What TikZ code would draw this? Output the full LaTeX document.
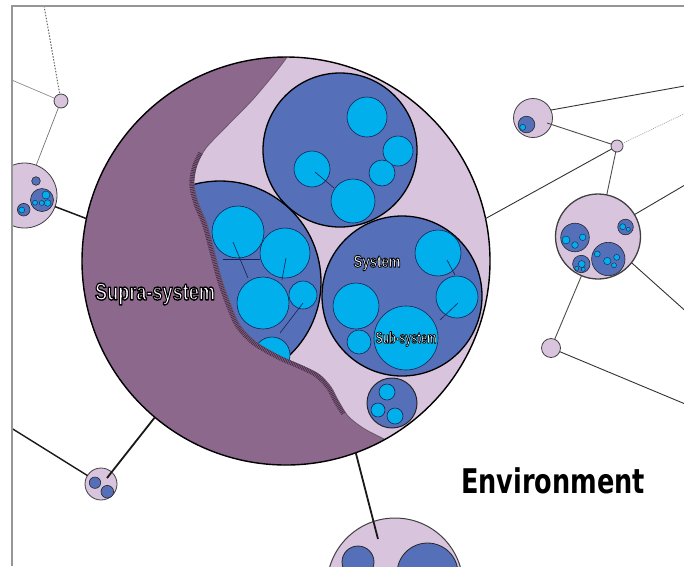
\documentclass[tikz,border=0pt]{standalone}
\usepackage{fontspec}
\usepackage{graphicx}
\newfontfamily\labfont{Liberation Sans}
\newfontfamily\envfont{DejaVu Sans}
\newcommand\strokedtext[2]{{\color{white}\special{pdf:literal direct 0 0 0 RG #1 w 1 j 2 Tr}#2\special{pdf:literal direct 0 Tr}}}
\definecolor{lav}{RGB}{217,196,221}
\definecolor{purp}{RGB}{140,104,140}
\definecolor{blu}{RGB}{85,112,185}
\definecolor{cya}{RGB}{0,175,236}
\definecolor{navy}{RGB}{20,35,80}
\definecolor{hatchc}{RGB}{70,45,70}
\definecolor{framec}{RGB}{150,150,150}
\begin{document}
\begin{tikzpicture}[x=1pt,y=-1pt,
  sat/.style={circle, draw=black!75, fill=lav, inner sep=0pt, outer sep=0pt, line width=0.8pt},
  bluec/.style={fill=blu, draw=black!85, line width=0.6pt},
  bigblue/.style={fill=blu, draw=black, line width=1.3pt},
  cyc/.style={fill=cya, draw=navy, line width=0.6pt},
  tinyc/.style={fill=cya, draw=navy, line width=0.4pt},
  link/.style={draw=navy, line width=0.6pt},
  conn/.style={draw=black!80, line width=0.9pt},
  heavy/.style={draw=black!90, line width=1.8pt},
  faint/.style={draw=black!45, line width=0.7pt},
  dotc/.style={draw=black!60, line width=1pt, dash pattern=on 1.5pt off 1.5pt},
  hatch/.style={draw=hatchc, line width=4.5pt, dash pattern=on 0.8pt off 0.9pt},
  lbl/.style={inner sep=0pt, outer sep=0pt}
]
\useasboundingbox (0,0) rectangle (684,566);
\begin{scope}
\clip (12,6) rectangle (684,566);
% ---------- main circle ----------
\fill[lav] (286,261) circle[radius=204];
% top system
\draw[bigblue] (340,150) circle[radius=77];
\draw[cyc] (367,117) circle[radius=20];
\draw[cyc] (398,151) circle[radius=15];
\draw[cyc] (382,173) circle[radius=13];
\draw[cyc] (312,169) circle[radius=18];
\draw[cyc] (353,201) circle[radius=22];
\draw[link] (315,172) -- (334,188);
% left system
\draw[bigblue] (220,282) circle[radius=101];
\draw[cyc] (238,232) circle[radius=26];
\draw[cyc] (285,253) circle[radius=25];
\draw[cyc] (263,303) circle[radius=26];
\draw[cyc] (303,295) circle[radius=14];
\draw[cyc] (272,355) circle[radius=18];
\draw[link] (233,242) -- (248,278);
\draw[link] (223,259) -- (260,259);
\draw[link] (286,258) -- (282,280);
\draw[link] (303,303) -- (280,333);
% right system
\draw[bigblue] (402,296) circle[radius=80];
\draw[cyc] (438,253) circle[radius=23];
\draw[cyc] (457,297) circle[radius=21];
\draw[cyc] (356,306) circle[radius=23];
\draw[cyc] (359,342) circle[radius=12];
\draw[cyc] (406,338) circle[radius=32];
\draw[link] (447,260) -- (455,275);
\draw[link] (458,303) -- (440,320);
% small system
\draw[bluec, line width=1pt] (392,403) circle[radius=25];
\draw[cyc] (387,392) circle[radius=8];
\draw[cyc] (378,410) circle[radius=7];
\draw[cyc] (395,416) circle[radius=8];
% crescent
\begin{scope}
\clip (286,261) circle[radius=204];
\fill[purp] plot[smooth, tension=0.5] coordinates {(291,40) (287,57) (255,97) (225,128) (206,148) (197,165) (194,183) (198,202) (207,224) (214,250) (222,280) (231,305) (240,325) (256,342) (280,356) (305,367) (320,375) (331,387) (338,400) (348,416) (363,428) (380,437) (410,452)} -- (420,480) -- (60,480) -- (60,40) -- cycle;
\draw[hatchc!80, line width=0.8pt] plot[smooth, tension=0.5] coordinates {(291,40) (287,57) (255,97) (225,128) (206,148) (197,165) (194,183) (198,202) (207,224) (214,250) (222,280) (231,305) (240,325) (256,342) (280,356) (305,367) (320,375) (331,387) (338,400) (348,416) (363,428) (380,437) (410,452)};
\begin{scope}[shift={(-2.5,1)}]
\draw[hatch] plot[smooth, tension=0.5] coordinates {(203,152) (197,165) (194,183) (198,202) (207,224) (214,250) (222,280) (231,305) (240,325) (256,342) (280,356) (305,367) (320,375) (331,387) (338,400) (346,413)};
\end{scope}
\end{scope}
\node[circle, draw=black, line width=1.4pt, minimum size=408pt, inner sep=0pt, outer sep=0pt] (main) at (286,261) {};
% labels
\node[lbl] (supra) at (155,294) {\resizebox{120pt}{\height}{\fontsize{24}{24}\selectfont\labfont\bfseries\strokedtext{1.4}{Supra-system}}};
\node[lbl] (system) at (377,263) {\resizebox{47pt}{\height}{\fontsize{17}{17}\selectfont\labfont\bfseries\strokedtext{0.9}{System}}};
\node[lbl] (subsys) at (406,339) {\resizebox{61pt}{\height}{\fontsize{16}{16}\selectfont\labfont\bfseries\strokedtext{0.85}{Sub-system}}};
\node[lbl, text=black] (env) at (553,481) {\resizebox{184pt}{\height}{\fontsize{34}{34}\selectfont\envfont\bfseries Environment}};
% ---------- satellites ----------
\node[sat, minimum size=14pt] (n1) at (61,101) {};
\node[sat, minimum size=65pt] (lc) at (24.5,195.5) {};
\node[sat, minimum size=32pt] (blc) at (101,484) {};
\node[sat, minimum size=136pt, line width=1pt] (bc) at (395,586) {};
\node[sat, minimum size=39pt] (rt) at (533,118) {};
\node[sat, minimum size=12pt] (n2) at (617,146) {};
\node[sat, minimum size=85pt, line width=1.3pt] (rc) at (598,236.5) {};
\node[sat, minimum size=19pt] (n3) at (551,348) {};
% lc inner
\draw[bluec] (36,181) circle[radius=4.3];
\draw[bluec] (42,200) circle[radius=11.5];
\draw[bluec] (23.7,209.7) circle[radius=6.3];
\draw[tinyc] (21.7,210) circle[radius=3];
\draw[tinyc] (46,195) circle[radius=4];
\draw[tinyc] (47.7,203) circle[radius=3.3];
\draw[tinyc] (41.7,203) circle[radius=2.5];
\draw[tinyc] (35,202.7) circle[radius=2.5];
% blc inner
\draw[bluec] (95,482.7) circle[radius=5.7];
\draw[bluec] (107.3,491.7) circle[radius=6.3];
% bc inner
\draw[bluec, line width=0.8pt] (358,562) circle[radius=16];
\draw[bluec, line width=0.8pt] (427.5,573.5) circle[radius=30.5];
% rt inner
\draw[bluec] (526.5,124.5) circle[radius=8.3];
\draw[tinyc] (522.7,127.3) circle[radius=3];
% rc inner
\draw[bluec] (575,237.5) circle[radius=14.3];
\draw[tinyc] (566,240) circle[radius=4];
\draw[tinyc] (575,245) circle[radius=3.3];
\draw[tinyc] (582.7,237.3) circle[radius=3.3];
\draw[bluec] (625.5,227) circle[radius=7.8];
\draw[tinyc] (622.7,226.7) circle[radius=3];
\draw[tinyc] (628.3,229.3) circle[radius=2];
\draw[bluec] (608.3,259) circle[radius=16.7];
\draw[tinyc] (597.3,254) circle[radius=3];
\draw[tinyc] (607.3,261) circle[radius=3.7];
\draw[tinyc] (616.7,257.3) circle[radius=3];
\draw[tinyc] (614,265.3) circle[radius=2.5];
\draw[bluec] (581.3,264) circle[radius=8.7];
\draw[tinyc] (581.7,264) circle[radius=3.5];
\draw[tinyc] (583.3,269.3) circle[radius=2];
\draw[tinyc] (576.7,268.3) circle[radius=2];
% ---------- connectors ----------
\coordinate (topend) at (43,0);
\coordinate (leftend1) at (0,75);
\coordinate (leftend2) at (0,421);
\coordinate (blin) at (107,478);
\coordinate (bcin) at (378,539);
\coordinate (rtin) at (547,123);
\coordinate (re1) at (690,85);
\coordinate (re2) at (690,111);
\coordinate (re3) at (690,182);
\coordinate (re4) at (690,315);
\coordinate (re5) at (690,406);
\draw[dotc] (topend) -- (n1);
\draw[faint] (leftend1) -- (n1);
\draw[faint, draw=black!55] (n1) -- (lc);
\draw[heavy, line width=1.5pt] (lc.-20) -- (main.168);
\draw[heavy, line width=1.4pt] (leftend2) -- (blc);
\draw[heavy] (blin) -- (main.230.5);
\draw[heavy] (main.290) -- (bcin);
\draw[conn] (rt.24) -- (re1);
\draw[conn, draw=black!70] (rtin) -- (n2);
\draw[faint, draw=black!35, dash pattern=on 1pt off 1pt] (n2) -- (re2);
\draw[conn, draw=black!70] (n2) -- (rc);
\draw[conn] (n2) -- (main.12);
\draw[conn] (rc.31) -- (re3);
\draw[conn] (rc.-38) -- (re4);
\draw[conn, draw=black!70] (rc) -- (n3);
\draw[conn] (n3) -- (re5);
\end{scope}
% frame
\draw[framec, line width=1.2pt] (684,6) -- (12,6) -- (12,566);
\end{tikzpicture}
\end{document}
